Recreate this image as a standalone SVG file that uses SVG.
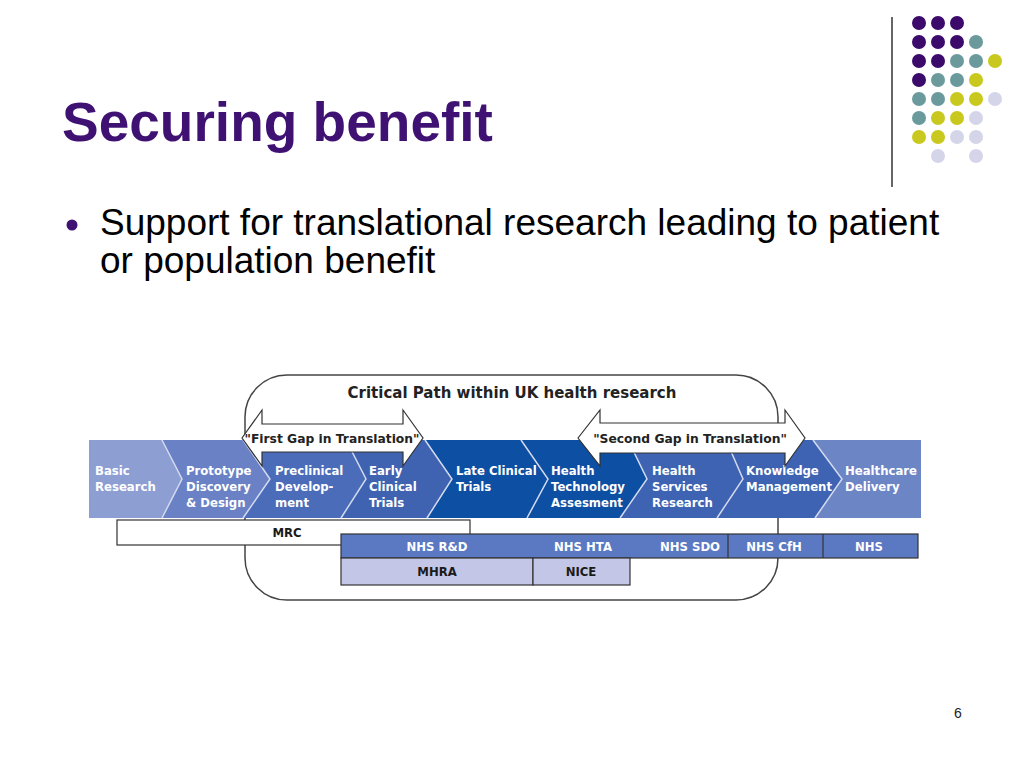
<svg xmlns="http://www.w3.org/2000/svg" width="1024" height="768" viewBox="0 0 1024 768">
<style>
.title{font-family:"Liberation Sans",Arial,sans-serif;font-weight:bold;font-size:55px;fill:#3F1173}
.body{font-family:"Liberation Sans",Arial,sans-serif;font-size:37px;fill:#000}
.pg{font-family:"Liberation Sans",Arial,sans-serif;font-size:14px;fill:#222}
.lbl{font-family:"DejaVu Sans",sans-serif;font-weight:bold;font-size:11.7px;fill:#fff}
.dk{font-family:"DejaVu Sans",sans-serif;font-weight:bold;font-size:11.7px;fill:#1a1a1a;text-anchor:middle}
.wt{font-family:"DejaVu Sans",sans-serif;font-weight:bold;font-size:11.7px;fill:#fff;text-anchor:middle}
.gap{font-family:"DejaVu Sans",sans-serif;font-weight:bold;font-size:12.3px;fill:#222;text-anchor:middle}
.cp{font-family:"DejaVu Sans",sans-serif;font-weight:bold;font-size:15px;fill:#222;text-anchor:middle}
.bnd{fill:none;stroke:#D3DAF0;stroke-width:1.5}
.arr{fill:#fff;stroke:#333;stroke-width:1.2}
.box{stroke:#333;stroke-width:1.2}
.p{fill:#3B0A6B}.t{fill:#6A9A9C}.y{fill:#C9C81E}.l{fill:#D5D5EA}
</style>

<g id="decor">
<line x1="892" y1="17" x2="892" y2="187" stroke="#333" stroke-width="1.5"/>
<circle class="p" cx="919" cy="23" r="7"/><circle class="p" cx="938" cy="23" r="7"/><circle class="p" cx="957" cy="23" r="7"/>
<circle class="p" cx="919" cy="42" r="7"/><circle class="p" cx="938" cy="42" r="7"/><circle class="p" cx="957" cy="42" r="7"/><circle class="t" cx="976" cy="42" r="7"/>
<circle class="p" cx="919" cy="61" r="7"/><circle class="p" cx="938" cy="61" r="7"/><circle class="t" cx="957" cy="61" r="7"/><circle class="t" cx="976" cy="61" r="7"/><circle class="y" cx="995" cy="61" r="7"/>
<circle class="p" cx="919" cy="80" r="7"/><circle class="t" cx="938" cy="80" r="7"/><circle class="t" cx="957" cy="80" r="7"/><circle class="y" cx="976" cy="80" r="7"/>
<circle class="t" cx="919" cy="99" r="7"/><circle class="t" cx="938" cy="99" r="7"/><circle class="y" cx="957" cy="99" r="7"/><circle class="y" cx="976" cy="99" r="7"/><circle class="l" cx="995" cy="99" r="7"/>
<circle class="t" cx="919" cy="118" r="7"/><circle class="y" cx="938" cy="118" r="7"/><circle class="y" cx="957" cy="118" r="7"/><circle class="l" cx="976" cy="118" r="7"/>
<circle class="y" cx="919" cy="137" r="7"/><circle class="y" cx="938" cy="137" r="7"/><circle class="l" cx="957" cy="137" r="7"/><circle class="l" cx="976" cy="137" r="7"/>
<circle class="l" cx="938" cy="156" r="7"/><circle class="l" cx="976" cy="156" r="7"/>
</g>

<g id="heading">
<text class="title" x="62" y="141">Securing benefit</text>
<circle cx="72" cy="225" r="5.5" fill="#3F1173"/>
<text class="body" x="100" y="235">Support for translational research leading to patient</text>
<text class="body" x="100" y="273">or population benefit</text>
<text class="pg" x="958" y="718" text-anchor="middle">6</text>
</g>

<g id="critical-path-outline">
<rect x="245" y="375" width="533" height="225" rx="42" ry="42" fill="none" stroke="#444" stroke-width="1.5"/>
<text class="cp" x="512" y="398">Critical Path within UK health research</text>
</g>

<g id="stage-basic-research">
<polygon points="89,440 162,440 182,479 162,518 89,518" fill="#8D9ED3"/>
<text class="lbl" x="95" y="475">Basic</text><text class="lbl" x="95" y="491">Research</text>
</g>
<g id="stage-prototype">
<polygon points="162,440 243,440 270,479 243,518 162,518 182,479" fill="#6A82C5"/>
<text class="lbl" x="186" y="475">Prototype</text><text class="lbl" x="186" y="491">Discovery</text><text class="lbl" x="186" y="507">&amp; Design</text>
</g>
<g id="stage-preclinical">
<polygon points="243,440 346,440 366,479 341,518 243,518 270,479" fill="#4B6CB9"/>
<text class="lbl" x="275" y="475">Preclinical</text><text class="lbl" x="275" y="491">Develop-</text><text class="lbl" x="275" y="507">ment</text>
</g>
<g id="stage-early-clinical">
<polygon points="346,440 425,440 452,479 427,518 341,518 366,479" fill="#3F63B1"/>
<text class="lbl" x="369" y="475">Early</text><text class="lbl" x="369" y="491">Clinical</text><text class="lbl" x="369" y="507">Trials</text>
</g>
<g id="stage-late-clinical">
<polygon points="425,440 521,440 548,479 527,518 427,518 452,479" fill="#0D4FA3"/>
<text class="lbl" x="456" y="475">Late Clinical</text><text class="lbl" x="456" y="491">Trials</text>
</g>
<g id="stage-hta">
<polygon points="521,440 628,440 647,479 620,518 527,518 548,479" fill="#0D4FA3"/>
<text class="lbl" x="551" y="475">Health</text><text class="lbl" x="551" y="491">Technology</text><text class="lbl" x="551" y="507">Assesment</text>
</g>
<g id="stage-hsr">
<polygon points="628,440 726,440 743,479 717,518 620,518 647,479" fill="#3E63B2"/>
<text class="lbl" x="652" y="475">Health</text><text class="lbl" x="652" y="491">Services</text><text class="lbl" x="652" y="507">Research</text>
</g>
<g id="stage-km">
<polygon points="726,440 813,440 842,479 815,518 717,518 743,479" fill="#3E63B2"/>
<text class="lbl" x="746" y="475">Knowledge</text><text class="lbl" x="746" y="491">Management</text>
</g>
<g id="stage-hd">
<polygon points="813,440 921,440 921,518 815,518 842,479" fill="#6C85C5"/>
<text class="lbl" x="845" y="475">Healthcare</text><text class="lbl" x="845" y="491">Delivery</text>
</g>

<g id="connectors">
<polyline class="bnd" points="162,440 182,479 162,518"/>
<polyline class="bnd" points="243,440 270,479 243,518"/>
<polyline class="bnd" points="346,440 366,479 341,518"/>
<polyline class="bnd" points="425,440 452,479 427,518"/>
<polyline class="bnd" points="521,440 548,479 527,518"/>
<polyline class="bnd" points="628,440 647,479 620,518"/>
<polyline class="bnd" points="726,440 743,479 717,518"/>
<polyline class="bnd" points="813,440 842,479 815,518"/>
</g>

<g id="first-gap">
<polygon class="arr" points="242,438 262,410 262,424 403,424 403,410 423,438 403,466 403,452 262,452 262,466"/>
<text class="gap" x="332" y="443">"First Gap in Translation"</text>
</g>
<g id="second-gap">
<polygon class="arr" points="578,438 600,410 600,423 785,423 785,410 805,438 785,466 785,453 600,453 600,466"/>
<text class="gap" x="690" y="443">"Second Gap in Translation"</text>
</g>

<g id="funder-mrc">
<rect class="box" x="117" y="520" width="353" height="25" fill="#fff"/>
<text class="dk" x="287" y="537">MRC</text>
</g>
<g id="funder-nhs">
<rect class="box" x="341" y="534" width="577" height="24" fill="#5B78C2"/>
<line x1="728" y1="534" x2="728" y2="558" stroke="#333" stroke-width="1.2"/>
<line x1="823" y1="534" x2="823" y2="558" stroke="#333" stroke-width="1.2"/>
<text class="wt" x="437" y="551">NHS R&amp;D</text>
<text class="wt" x="583" y="551">NHS HTA</text>
<text class="wt" x="690" y="551">NHS SDO</text>
<text class="wt" x="774" y="551">NHS CfH</text>
<text class="wt" x="869" y="551">NHS</text>
</g>
<g id="funder-mhra">
<rect class="box" x="341" y="558" width="192" height="27" fill="#C3C6E6"/>
<text class="dk" x="437" y="576">MHRA</text>
</g>
<g id="funder-nice">
<rect class="box" x="533" y="558" width="97" height="27" fill="#C3C6E6"/>
<text class="dk" x="581" y="576">NICE</text>
</g>
</svg>
